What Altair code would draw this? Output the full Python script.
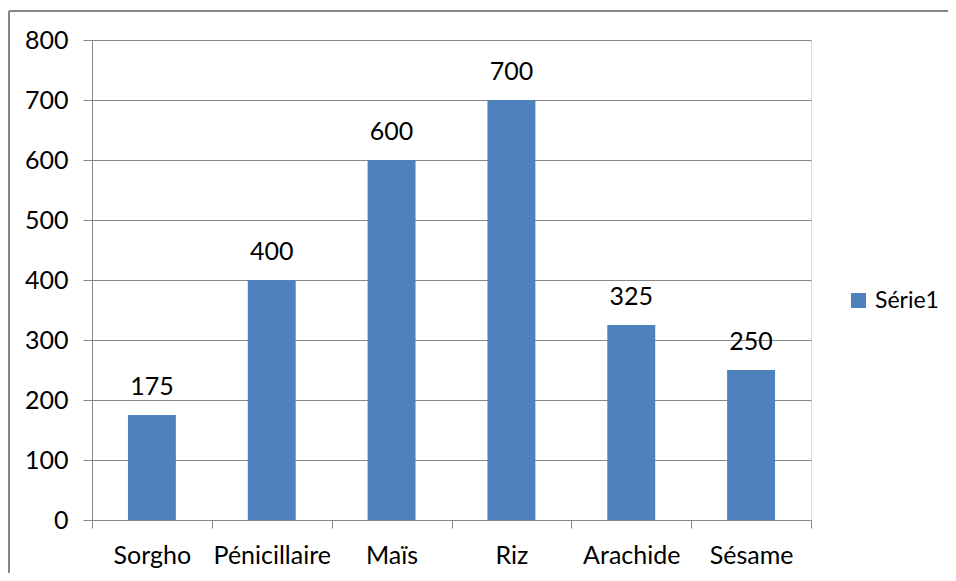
import altair as alt
import pandas as pd

categories = ["Sorgho", "Pénicillaire", "Maïs", "Riz", "Arachide", "Sésame"]
values = [175, 400, 600, 700, 325, 250]
series = ["Série1"] * len(categories)

df = pd.DataFrame({"cat": categories, "val": values, "serie": series})

FONT = "Lato"
GRAY = "#868686"
BLUE = "#4F81BD"

base = alt.Chart(df)

bars = base.mark_bar(width=alt.RelativeBandSize(0.4)).encode(
    x=alt.X("cat:N", sort=None, title=None,
            scale=alt.Scale(paddingInner=0, paddingOuter=0),
            axis=alt.Axis(labelAngle=0, labelFont=FONT, labelFontSize=25, labelColor="#000000",
                          labelPadding=15, tickSize=8, tickColor=GRAY, tickWidth=1,
                          domainColor=GRAY, domainWidth=1, tickBand="extent", grid=False)),
    y=alt.Y("val:Q", title=None,
            scale=alt.Scale(domain=[0, 800], nice=False),
            axis=alt.Axis(values=list(range(0, 801, 100)), labelFont=FONT, labelFontSize=25,
                          labelColor="#000000", labelPadding=15, tickSize=9, tickColor=GRAY,
                          domainColor=GRAY, gridColor=GRAY, gridWidth=1, grid=True)),
    color=alt.Color("serie:N", title=None,
                    scale=alt.Scale(domain=["Série1"], range=[BLUE]),
                    legend=alt.Legend(orient="none", legendX=755, legendY=249, padding=0,
                                      symbolType="square", symbolSize=225, symbolStrokeWidth=0,
                                      labelFont=FONT, labelFontSize=23, labelColor="#000000",
                                      labelOffset=5, labelLimit=200)),
)

labels = base.mark_text(font=FONT, fontSize=25, color="#000000", baseline="alphabetic", dy=-20).encode(
    x=alt.X("cat:N", sort=None),
    y="val:Q",
    text="val:Q",
)

border = alt.Chart(alt.Data(values=[{}]))
top_line = border.mark_rule(color=GRAY, strokeWidth=2).encode(
    x=alt.value(-83), x2=alt.value(856), y=alt.value(-29))
left_line = border.mark_rule(color=GRAY, strokeWidth=2).encode(
    x=alt.value(-83), y=alt.value(-29), y2=alt.value(533))

chart = alt.layer(bars, labels, top_line, left_line).properties(
    width=719, height=480,
    autosize=alt.AutoSizeParams(type="none"),
    padding={"left": 84, "top": 32, "right": 137, "bottom": 53},
).configure_view(stroke=None).configure(background="white")

chart.save("out.html", embed_options={"renderer": "svg", "actions": False})
